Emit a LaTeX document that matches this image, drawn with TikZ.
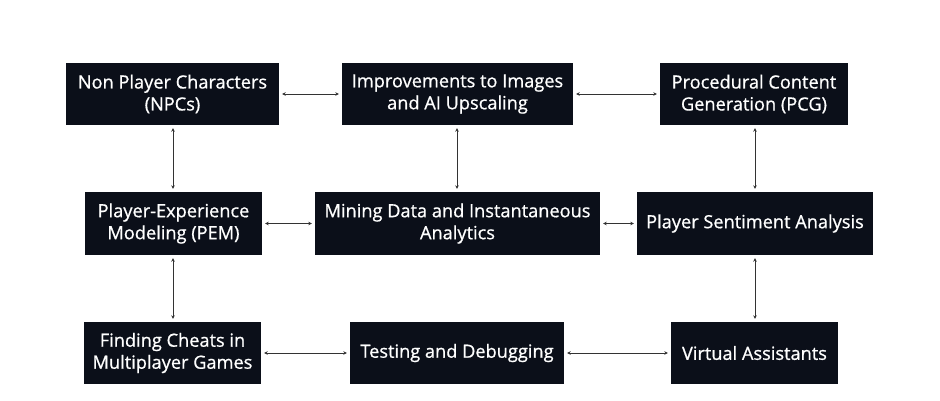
\documentclass[tikz,border=0pt]{standalone}
\usepackage{fontspec}
\setmainfont{Open Sans}
\newfontfamily\boxfont{Open Sans}[RawFeature={embolden=0.8}]
\usetikzlibrary{arrows.meta}
\definecolor{boxfill}{HTML}{0B0F19}
\definecolor{linkcol}{HTML}{333333}
\tikzset{
  box/.style={fill=boxfill, text=white, inner sep=0pt, align=center,
    font=\boxfont\fontsize{18.2}{22}\selectfont},
  link/.style={draw=linkcol, line width=1pt, {Stealth[length=3.5pt,width=3.5pt]}-{Stealth[length=3.5pt,width=3.5pt]}, shorten >=3pt, shorten <=3pt}
}
\begin{document}
\begin{tikzpicture}[x=1pt,y=-1pt]
\useasboundingbox (0,0) rectangle (940,400);
\fill[white] (0,0) rectangle (940,400);
% row 1
\node[box, minimum width=213pt, minimum height=62pt] (npc) at (172.5,94) {Non Player Characters\\(NPCs)};
\node[box, minimum width=231pt, minimum height=62pt] (img) at (457.5,94) {Improvements to Images\\and AI Upscaling};
\node[box, minimum width=188pt, minimum height=62pt] (pcg) at (754,94) {Procedural Content\\Generation (PCG)};
% row 2
\node[box, minimum width=177pt, minimum height=63pt] (pem) at (173.5,223.5) {Player-Experience\\Modeling (PEM)};
\node[box, minimum width=285pt, minimum height=63pt] (mine) at (457.5,223.5) {Mining Data and Instantaneous\\Analytics};
\node[box, minimum width=236pt, minimum height=63pt] (sent) at (755,223.5) {Player Sentiment Analysis};
% row 3
\node[box, minimum width=177pt, minimum height=62pt] (cheat) at (172.5,353) {Finding Cheats in\\Multiplayer Games};
\node[box, minimum width=214pt, minimum height=62pt] (test) at (457,353) {Testing and Debugging};
\node[box, minimum width=167pt, minimum height=62pt] (va) at (754.5,353) {Virtual Assistants};
% connectors
\draw[link] (npc.east) -- (img.west);
\draw[link] (img.east) -- (pcg.west);
\draw[link] (npc.south -| 173,0) -- (pem.north -| 173,0);
\draw[link] (img.south -| 457,0) -- (mine.north -| 457,0);
\draw[link] (pcg.south -| 755,0) -- (sent.north -| 755,0);
\draw[link] (pem.east) -- (mine.west);
\draw[link] (mine.east) -- (sent.west);
\draw[link] (pem.south -| 173,0) -- (cheat.north -| 173,0);
\draw[link] (sent.south) -- (va.north -| sent.south);
\draw[link] (cheat.east) -- (test.west);
\draw[link] (test.east) -- (va.west);
\end{tikzpicture}
\end{document}
